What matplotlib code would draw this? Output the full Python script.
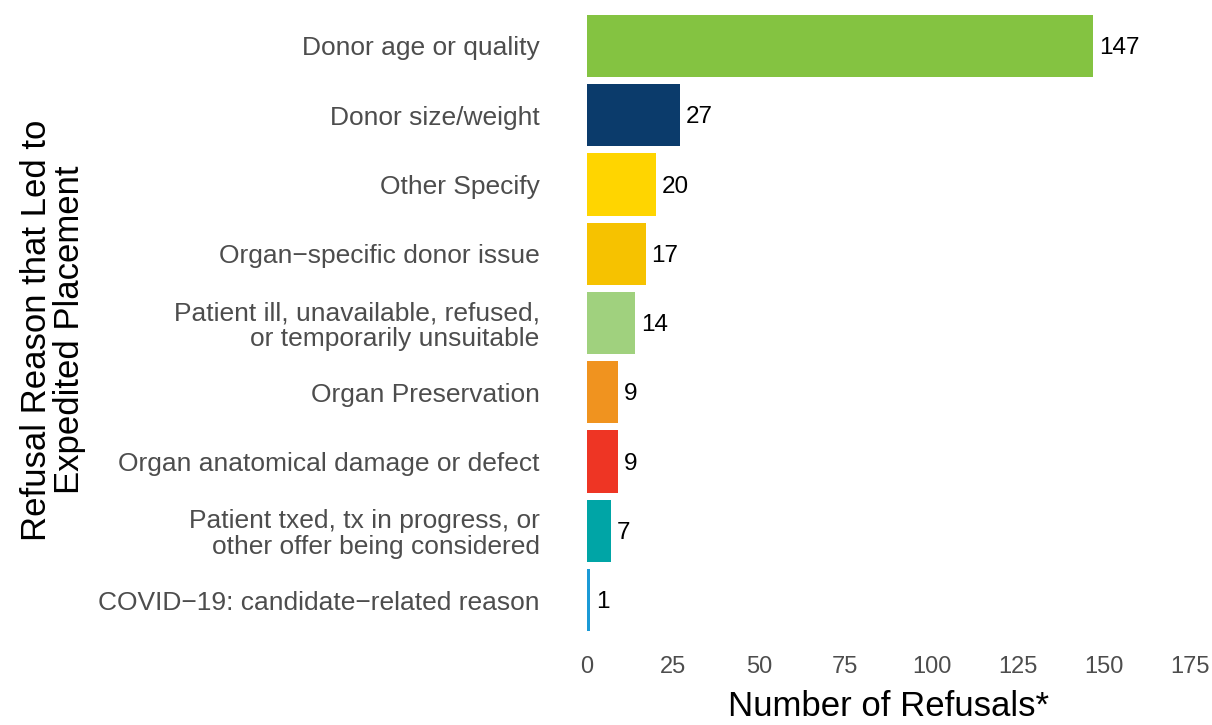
import matplotlib
matplotlib.use("Agg")
import matplotlib.pyplot as plt

# ======== data ========
reasons = [
    "Donor age or quality",
    "Donor size/weight",
    "Other Specify",
    "Organ\u2212specific donor issue",
    "Patient ill, unavailable, refused,\nor temporarily unsuitable",
    "Organ Preservation",
    "Organ anatomical damage or defect",
    "Patient txed, tx in progress, or\nother offer being considered",
    "COVID\u221219: candidate\u2212related reason",
]
counts = [147, 27, 20, 17, 14, 9, 9, 7, 1]
colors = ["#84C341", "#0B3B6B", "#FFD500", "#F6C200", "#A0D17E",
          "#F0931F", "#EE3524", "#00A5A6", "#1B9AD6"]
xticks = [0, 25, 50, 75, 100, 125, 150, 175]

plt.rcParams['font.family'] = ['Liberation Sans', 'DejaVu Sans']

fig = plt.figure(figsize=(12.12, 7.25), dpi=100)
ax = fig.add_axes([0.4843, 0.115, 0.4975, 0.879])

ypos = list(range(1, len(reasons) + 1))
ax.barh(ypos, counts, height=0.9, color=colors)

# value labels
for y, v in zip(ypos, counts):
    ax.annotate(str(v), (v, y), xytext=(4, -1.5), textcoords="offset points",
                ha="left", va="center", fontsize=17.5, color="black")

ax.set_ylim(9.6, 0.4)
ax.set_xlim(0, 175)
ax.set_yticks(ypos)
ax.set_yticklabels(reasons, fontsize=19, color="#4D4D4D", linespacing=1.1)
ax.set_xticks(xticks)
ax.set_xticklabels([str(t) for t in xticks], fontsize=17, color="#4D4D4D")
ax.tick_params(axis="y", length=0, pad=34)
ax.tick_params(axis="x", length=0, pad=10)

for s in ax.spines.values():
    s.set_visible(False)

ax.set_xlabel("Number of Refusals*", fontsize=25, labelpad=9)
fig.text(0.044, 0.545, "Refusal Reason that Led to\nExpedited Placement",
         rotation=90, ha="center", va="center", fontsize=25, linespacing=1.0)

fig.savefig("out.png", dpi=100)
